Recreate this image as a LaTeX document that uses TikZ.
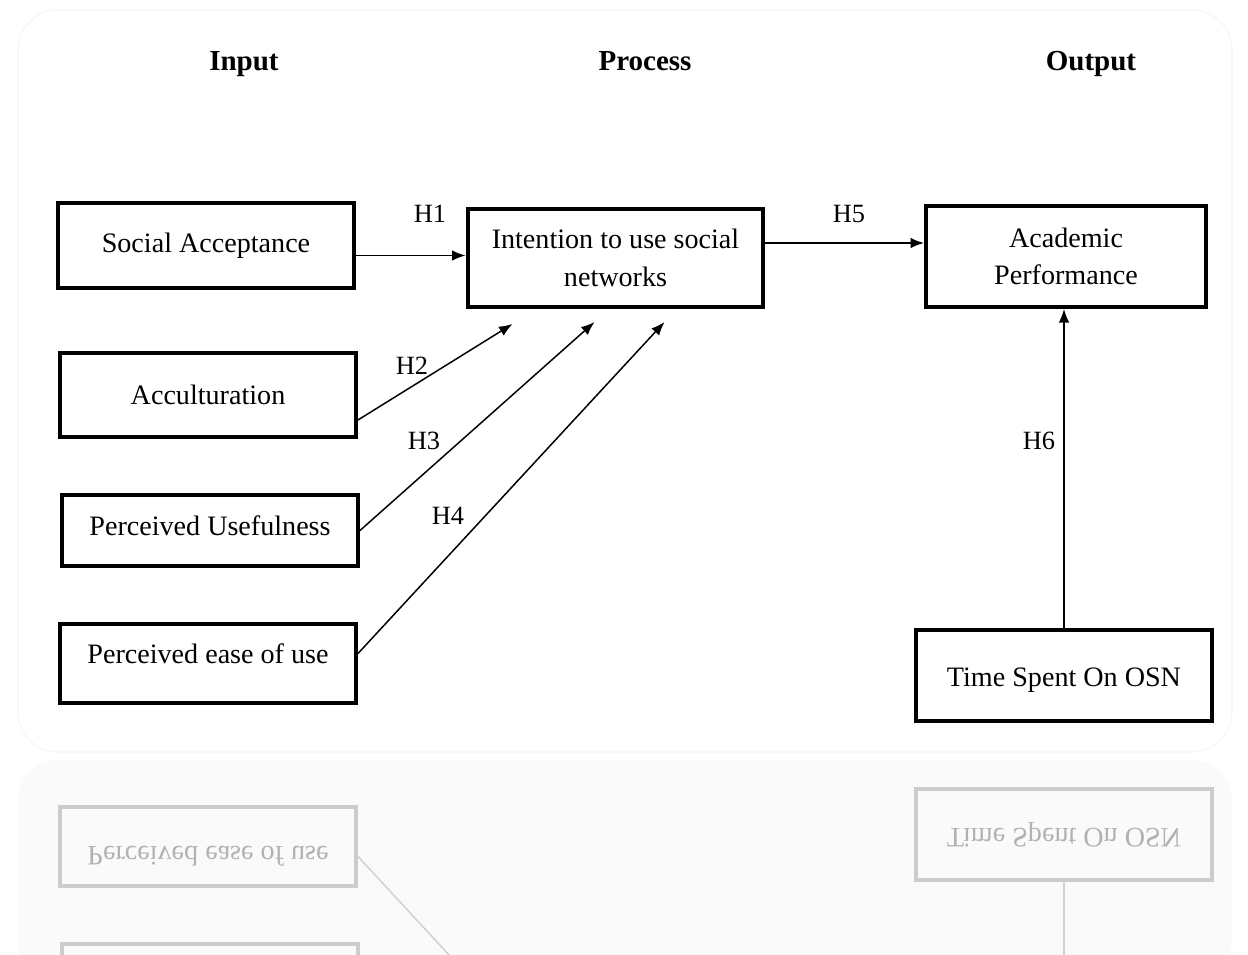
\documentclass[tikz,border=0pt]{standalone}
\usepackage{fontspec}
\usepackage{graphicx}
\setmainfont{Liberation Serif}
\usetikzlibrary{arrows.meta,calc}
\begin{document}
\begin{tikzpicture}[x=0.02cm,y=-0.02cm,
  box/.style={draw=black,line width=2.3pt,minimum width=5.92cm,align=center,inner sep=0pt,
    font=\fontsize{16}{21.5}\selectfont},
  rbox/.style={draw=black!20,line width=2.3pt,minimum width=5.92cm,align=center,inner sep=0pt,
    text=black!30,font=\fontsize{16}{21.5}\selectfont},
  head/.style={anchor=base,font=\fontsize{16.5}{19}\selectfont\bfseries},
  hyp/.style={font=\fontsize{15}{18}\selectfont},
  arr/.style={line width=0.85pt,-{Latex[length=0.27cm,width=0.21cm]}},
  rline/.style={line width=0.85pt,draw=black!18}]
\useasboundingbox (0,0) rectangle (1248,955);
% faint frame
\draw[black!4,line width=0.6pt,rounded corners=0.8cm] (18,10) rectangle (1232,752);
% headers
\node[head] (hin) at (244,71) {Input};
\node[head] (hpr) at (645,71) {Process};
\node[head] (hout) at (1091,71) {Output};
% boxes
\node[box,minimum height=1.70cm] (sa) at (206,245.5) {Social Acceptance};
\node[box,minimum height=1.68cm] (acc) at (208,395) {Acculturation};
\node[box,minimum height=1.42cm] (pu) at (210,530.5) {\raisebox{0.2cm}{Perceived Usefulness}};
\node[box,minimum height=1.58cm] (pe) at (208,663.5) {\raisebox{0.4cm}{Perceived ease of use}};
\node[box,minimum height=1.96cm] (int) at (615.5,258) {Intention to use social\\networks};
\node[box,minimum width=5.60cm,minimum height=2.02cm] (ap) at (1066,256.5) {Academic\\Performance};
\node[box,minimum height=1.82cm] (tos) at (1064,675.5) {\raisebox{-0.22cm}[0pt][0pt]{Time Spent On OSN}};
% connectors
\draw[arr] ($(sa.east)+(0,10)$) coordinate (h1s) -- (h1s -| int.west);
\draw[arr] ($(int.east)+(0,-15)$) coordinate (h5s) -- (h5s -| ap.west);
\coordinate (t2) at ($(int.south west)+(47,15)$);
\coordinate (t3) at ($(int.south west)+(129,13)$);
\coordinate (t4) at ($(int.south west)+(199,13)$);
\draw[arr] ($(acc.east)+(0,25)$) -- (t2);
\draw[arr] (pu.east) -- (t3);
\draw[arr] ($(pe.east)+(0,-10)$) -- (t4);
\draw[arr] (tos.north) -- (tos.north |- ap.south);
% hypothesis labels
\node[hyp] (l1) at (430,214) {H1};
\node[hyp] (l2) at (412,366) {H2};
\node[hyp] (l3) at (424,441) {H3};
\node[hyp] (l4) at (448,516) {H4};
\node[hyp] (l5) at (849,214) {H5};
\node[hyp] (l6) at (1039,441) {H6};
% reflection
\begin{scope}
\clip (0,757) rectangle (1248,955);
\fill[black!2,rounded corners=0.8cm] (18,760) rectangle (1232,980);
\node[rbox,minimum height=1.58cm] (rpe) at (208,846.5) {\raisebox{-0.4cm}{\scalebox{1}[-1]{Perceived ease of use}}};
\node[rbox,minimum height=1.42cm] (rpu) at (210,979.5) {};
\node[rbox,minimum height=1.82cm] (rtos) at (1064,834.5) {\raisebox{0.2cm}{\scalebox{1}[-1]{Time Spent On OSN}}};
\draw[rline] ($(rpe.east)+(0,10)$) -- ++(307,332);
\draw[rline] (rtos.south) -- ++(0,120);
\end{scope}
\end{tikzpicture}
\end{document}
